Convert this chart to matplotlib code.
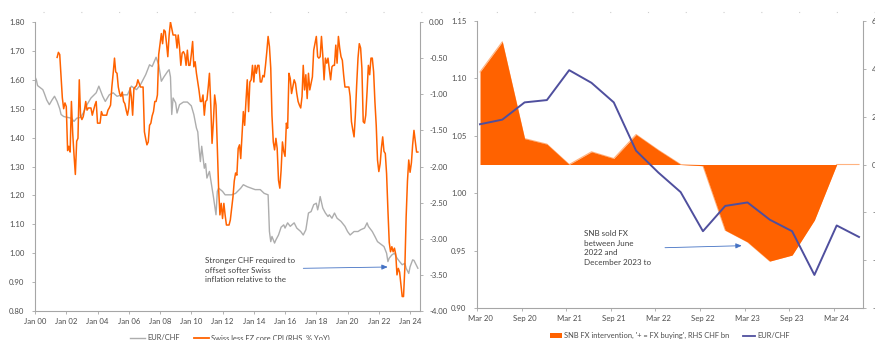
import matplotlib
matplotlib.use("Agg")
import matplotlib.pyplot as plt
import matplotlib.dates as mdates
from matplotlib.lines import Line2D
from matplotlib.patches import Patch
from matplotlib.ticker import FuncFormatter, FixedLocator
import numpy as np
import pandas as pd

plt.rcParams['font.family'] = ['Lato', 'DejaVu Sans']

# ---------------- data: left panel ----------------
eurchf_dates = [
    "2000-01", "2000-02", "2000-03", "2000-07", "2000-08", "2000-10", "2000-12",
    "2001-02", "2001-04", "2001-06", "2001-08", "2001-09", "2001-11",
    "2002-02", "2002-05", "2002-07", "2002-09", "2002-12",
    "2003-02", "2003-05", "2003-08", "2003-12",
    "2004-02", "2004-05", "2004-07", "2004-10",
    "2005-01", "2005-04", "2005-08", "2005-12",
    "2006-03", "2006-07", "2006-10",
    "2007-02", "2007-05", "2007-07", "2007-10", "2007-12",
    "2008-02", "2008-04", "2008-07", "2008-08", "2008-09", "2008-10", "2008-11",
    "2009-01", "2009-02", "2009-04", "2009-07", "2009-10",
    "2010-01", "2010-03", "2010-05", "2010-06", "2010-07", "2010-08", "2010-09",
    "2010-11", "2010-12",
    "2011-01", "2011-03", "2011-05", "2011-06", "2011-08", "2011-09", "2011-10",
    "2012-01", "2012-03", "2012-06", "2012-08", "2012-11",
    "2013-03", "2013-05", "2013-08", "2013-11",
    "2014-02", "2014-06", "2014-09", "2014-12",
    "2015-01", "2015-02", "2015-03", "2015-05", "2015-06", "2015-08", "2015-10",
    "2015-12",
    "2016-01", "2016-03", "2016-05", "2016-08", "2016-10",
    "2017-01", "2017-03", "2017-05", "2017-07", "2017-09", "2017-11",
    "2018-01", "2018-02", "2018-03", "2018-04", "2018-06", "2018-08", "2018-10",
    "2018-11",
    "2019-01", "2019-03", "2019-05", "2019-08", "2019-11",
    "2020-01", "2020-03", "2020-06", "2020-09", "2020-11",
    "2021-02", "2021-04", "2021-05", "2021-08", "2021-10", "2021-12",
    "2022-03", "2022-05", "2022-07", "2022-08", "2022-09", "2022-11",
    "2023-01", "2023-03", "2023-05", "2023-07", "2023-09", "2023-10", "2023-12",
    "2024-01", "2024-03", "2024-04", "2024-07",
]
eurchf_values = [
    1.61, 1.60, 1.58, 1.566, 1.555, 1.53, 1.514,
    1.53, 1.543, 1.525, 1.50, 1.48, 1.473,
    1.47, 1.467, 1.456, 1.467, 1.47,
    1.485, 1.514, 1.537, 1.555,
    1.578, 1.543, 1.525, 1.548,
    1.555, 1.543, 1.548, 1.548,
    1.578, 1.566, 1.583,
    1.618, 1.652, 1.646, 1.678, 1.652,
    1.595, 1.61, 1.63, 1.635, 1.61, 1.48, 1.537,
    1.52, 1.485, 1.514, 1.523, 1.523,
    1.51, 1.48, 1.433, 1.42, 1.364, 1.317, 1.37,
    1.294, 1.31,
    1.26, 1.283, 1.225, 1.196, 1.133, 1.214, 1.225,
    1.214, 1.202, 1.202, 1.202, 1.207,
    1.225, 1.237, 1.23, 1.225,
    1.22, 1.22, 1.207, 1.202,
    1.075, 1.04, 1.058, 1.035, 1.046, 1.063, 1.09,
    1.098,
    1.087, 1.105, 1.093, 1.105, 1.087,
    1.075, 1.063, 1.081, 1.139, 1.144, 1.168,
    1.173, 1.15, 1.168, 1.196, 1.156, 1.139, 1.127,
    1.133,
    1.121, 1.139, 1.121, 1.11, 1.093,
    1.075, 1.063, 1.075, 1.075, 1.081,
    1.087, 1.105, 1.093, 1.075, 1.058, 1.04,
    1.03, 1.023, 1.0, 0.971, 0.983, 0.994,
    1.0, 0.983, 0.971, 0.96, 0.965, 0.948, 0.93,
    0.953, 0.977, 0.975, 0.948,
]

# Swiss less eurozone core CPI, % YoY, monthly from June 2001
cpi_start = "2001-06"
cpi_gap = [
    -0.49, -0.42, -0.45, -0.75, -1.05, -1.20, -1.12,                               # 2001
    -1.17, -1.78, -1.72, -1.80, -1.10, -1.55, -1.84, -2.11, -1.65, -1.61, -0.80, -1.30,  # 2002
    -1.35, -1.31, -1.22, -1.10, -1.22, -1.19, -1.19, -1.19, -1.29, -1.22, -1.15, -1.10,  # 2003
    -1.40, -1.40, -1.40, -1.24, -1.29, -1.29, -1.29, -1.29, -1.22, -1.19, -1.15, -0.90,  # 2004
    -0.71, -0.50, -0.69, -0.71, -0.90, -0.99, -1.03, -0.97, -1.10, -1.13, -1.22, -1.29,  # 2005
    -1.19, -0.91, -1.03, -1.29, -0.92, -0.90, -0.88, -0.80, -0.85, -0.90, -0.90, -0.90,  # 2006
    -1.52, -1.62, -1.70, -1.66, -1.43, -1.40, -1.30, -1.24, -1.10, -1.10, -1.01, -0.45,  # 2007
    -0.30, -0.16, -0.30, -0.11, -0.13, -0.30, -0.48, -0.18, 0.00, -0.09, -0.18, -0.18,   # 2008
    -0.18, -0.36, -0.18, -0.35, -0.60, -0.43, -0.41, -0.45, -0.60, -0.39, -0.60, -0.60,  # 2009
    -0.45, -0.27, -0.62, -0.55, -0.71, -0.83, -0.95, -1.10, -1.10, -1.01, -1.29, -1.10,  # 2010
    -1.08, -0.90, -0.71, -1.15, -1.68, -1.38, -1.01, -1.15, -1.75, -2.30, -2.67, -2.51,  # 2011
    -2.72, -2.51, -2.67, -2.81, -2.81, -2.81, -2.74, -2.58, -2.42, -2.20, -2.09, -2.12,  # 2012
    -1.75, -1.70, -1.89, -1.56, -1.24, -1.43, -1.10, -0.80, -1.24, -0.83, -0.80, -0.60,  # 2013
    -0.83, -0.60, -0.71, -0.60, -0.60, -0.83, -0.83, -0.74, -0.76, -0.60, -0.41, -0.20,  # 2014
    -0.34, -0.64, -1.29, -1.66, -1.77, -1.61, -1.75, -2.19, -2.30, -2.05, -1.66, -1.79,  # 2015
    -1.86, -1.40, -1.47, -0.71, -0.78, -0.99, -0.90, -0.80, -0.85, -0.99, -1.10, -1.15,  # 2016
    -1.19, -1.03, -0.60, -0.94, -0.73, -1.06, -0.71, -0.94, -0.85, -0.76, -0.39, -0.30,  # 2017
    -0.20, -0.48, -0.50, -0.48, -0.20, -0.46, -0.80, -0.50, -0.57, -0.50, -0.66, -0.80,  # 2018
    -0.62, -0.60, -0.60, -0.32, -0.57, -0.20, -0.36, -0.48, -0.53, -0.73, -0.90, -0.90,  # 2019
    -0.90, -0.90, -1.03, -1.38, -1.49, -1.59, -1.29, -0.87, -0.50, -0.30, -0.36, -0.64,  # 2020
    -1.38, -1.40, -1.29, -0.96, -0.60, -0.73, -0.50, -0.50, -0.69, -1.10, -1.43, -1.91,  # 2021
    -2.07, -1.96, -1.75, -1.59, -1.79, -1.82, -2.10, -2.60, -3.05, -3.18, -3.11, -3.18,  # 2022
    -3.13, -3.22, -3.50, -3.41, -3.46, -3.64, -3.80, -3.80, -3.40, -2.70, -2.20, -1.91,  # 2023
    -2.08, -1.95, -1.70, -1.50, -1.65, -1.80, -1.80,                               # 2024
]

# ---------------- data: right panel ----------------
quarters = ["Mar 20", "Jun 20", "Sep 20", "Dec 20", "Mar 21", "Jun 21", "Sep 21",
            "Dec 21", "Mar 22", "Jun 22", "Sep 22", "Dec 22", "Mar 23", "Jun 23",
            "Sep 23", "Dec 23", "Mar 24", "Jun 24"]
eurchf_q = [1.060, 1.064, 1.079, 1.081, 1.107, 1.096, 1.079, 1.037, 1.018,
            1.001, 0.967, 0.989, 0.992, 0.977, 0.967, 0.929, 0.972, 0.962]
snb_fx = [3.86, 5.12, 1.08, 0.85, 0.0, 0.53, 0.25, 1.25, 0.60,
          0.0, -0.05, -2.74, -3.23, -4.03, -3.78, -2.32, 0.0, 0.0]

# ---------------- styling ----------------
ORANGE = "#FF6200"
GREY_LINE = "#ADADAD"
INDIGO = "#4F4F9E"
AXIS = "#A6A6A6"
TXT = "#4D4D4D"
FS = 5.6

W, H = 875, 340
fig = plt.figure(figsize=(W / 100, H / 100), dpi=100)


def px(x0, y0, x1, y1):
    return [x0 / W, 1 - y1 / H, (x1 - x0) / W, (y1 - y0) / H]


def hyphen_fmt(fmt):
    return FuncFormatter(lambda v, p: (fmt % v).replace("\u2212", "-"))


def style_axis(a, sides):
    for s in ["top", "left", "right", "bottom"]:
        a.spines[s].set_visible(s in sides)
        a.spines[s].set_color(AXIS)
        a.spines[s].set_linewidth(0.8)
    a.tick_params(colors=AXIS, labelcolor=TXT, labelsize=FS, length=2.5,
                  width=0.6, direction="out")


# ---------------- left panel ----------------
axL = fig.add_axes(px(35, 22, 420, 311))
axL2 = axL.twinx()

d_fx = pd.to_datetime(eurchf_dates, format="%Y-%m")
d_cpi = pd.date_range(cpi_start + "-01", periods=len(cpi_gap), freq="MS")

axL.plot(d_fx, eurchf_values, color=GREY_LINE, lw=1.0)
axL2.plot(d_cpi, cpi_gap, color=ORANGE, lw=1.1)

axL.set_ylim(0.80, 1.80)
axL.set_yticks(np.arange(0.80, 1.801, 0.10))
axL.yaxis.set_major_formatter(hyphen_fmt("%.2f"))
axL2.set_ylim(-4.0, 0.0)
axL2.set_yticks(np.arange(-4.0, 0.01, 0.5))
axL2.yaxis.set_major_formatter(hyphen_fmt("%.2f"))

axL.set_xlim(pd.Timestamp("2000-01-01"), pd.Timestamp("2024-08-20"))
axL.xaxis.set_major_locator(mdates.YearLocator(2, month=1, day=1))
axL.xaxis.set_major_formatter(mdates.DateFormatter("%b %y"))

style_axis(axL, ["left", "bottom"])
style_axis(axL2, ["right"])
axL.tick_params(axis="y", pad=5)
axL2.tick_params(axis="y", pad=4)
axL.tick_params(axis="x", pad=2.5)

fig.text(205 / W, 1 - 257.5 / H,
         "Stronger CHF required to\noffset softer Swiss\ninflation relative to the",
         fontsize=5.8, color="#404040", va="top", ha="left", linespacing=1.4)
axL.annotate("", xy=(387.7 / W, 1 - 267 / H), xytext=(303.3 / W, 1 - 268.3 / H),
             xycoords="figure fraction", textcoords="figure fraction",
             arrowprops=dict(arrowstyle="-|>,head_length=0.35,head_width=0.15",
                             color="#4472C4", lw=0.6, shrinkA=0, shrinkB=0))

fig.legend(handles=[Line2D([], [], color=GREY_LINE, lw=1.0),
                    Line2D([], [], color=ORANGE, lw=1.3)],
           labels=["EUR/CHF", "Swiss less EZ core CPI (RHS, % YoY)"],
           loc="center", bbox_to_anchor=(230 / W, 1 - 338 / H), ncol=2,
           frameon=False, fontsize=5.4, handlelength=2.0, handletextpad=0.3,
           columnspacing=1.8, labelcolor=TXT, borderpad=0)

# ---------------- right panel ----------------
axR = fig.add_axes(px(477, 20.7, 863, 308.3))
axR2 = axR.twinx()
axR.set_zorder(axR2.get_zorder() + 1)
axR.patch.set_visible(False)

xq = np.arange(len(quarters))
axR2.plot(xq, snb_fx, color="#FFB380", lw=0.8, zorder=1)
axR2.fill_between(xq, 0, snb_fx, color=ORANGE, lw=0, zorder=2)
axR.plot(xq, eurchf_q, color=INDIGO, lw=1.4)

axR.set_xlim(-0.135, 17.18)
axR.set_ylim(0.90, 1.15)
axR.set_yticks(np.arange(0.90, 1.151, 0.05))
axR.yaxis.set_major_formatter(hyphen_fmt("%.2f"))
axR2.set_ylim(-6, 6)
axR2.set_yticks(np.arange(-6, 6.1, 2))
axR2.yaxis.set_major_formatter(hyphen_fmt("%d"))

label_pos = xq[::2]
axR.xaxis.set_major_locator(FixedLocator(label_pos - 0.135))
axR.set_xticklabels([])
axR.xaxis.set_minor_locator(FixedLocator(label_pos))
axR.xaxis.set_minor_formatter(FuncFormatter(lambda v, p: quarters[int(round(v))]))

style_axis(axR, ["left", "bottom"])
style_axis(axR2, ["right"])
axR.tick_params(axis="x", which="minor", length=0, labelsize=FS,
                labelcolor=TXT, pad=5)
axR.tick_params(axis="y", pad=5)
axR2.tick_params(axis="y", pad=4)

fig.text(584 / W, 1 - 230 / H,
         "SNB sold FX\nbetween June\n2022 and\nDecember 2023 to",
         fontsize=5.8, color="#404040", va="top", ha="left", linespacing=1.45)
axR.annotate("", xy=(741.7 / W, 1 - 245.7 / H), xytext=(665 / W, 1 - 247.7 / H),
             xycoords="figure fraction", textcoords="figure fraction",
             arrowprops=dict(arrowstyle="-|>,head_length=0.35,head_width=0.15",
                             color="#4472C4", lw=0.6, shrinkA=0, shrinkB=0))

fig.legend(handles=[Patch(facecolor=ORANGE, edgecolor="none"),
                    Line2D([], [], color=INDIGO, lw=1.3)],
           labels=["SNB FX intervention, '+ = FX buying', RHS CHF bn", "EUR/CHF"],
           loc="center", bbox_to_anchor=(670 / W, 1 - 335.7 / H), ncol=2,
           frameon=False, fontsize=5.4, handlelength=1.6, handleheight=0.5,
           handletextpad=0.3, columnspacing=1.8, labelcolor=TXT, borderpad=0)

# faint dotted rule along the top of the figure
fig.add_artist(Line2D([43 / W, 1.0], [1 - 12 / H, 1 - 12 / H],
                      transform=fig.transFigure, color="#CFCFCF", lw=0.8,
                      linestyle=(0, (1, 33))))

fig.savefig("out.png", dpi=100)
